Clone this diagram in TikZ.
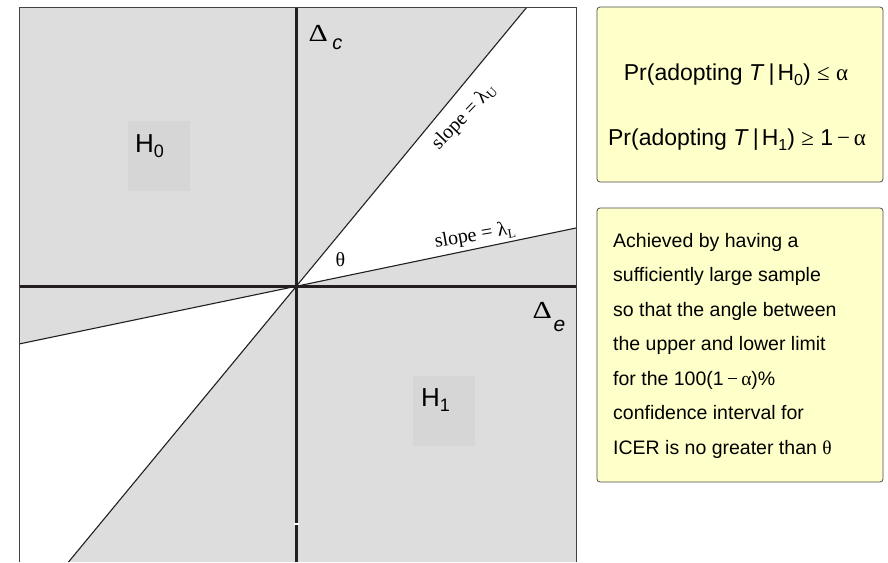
\documentclass[tikz,border=0pt]{standalone}
\usepackage{fontspec}
\setmainfont{Liberation Sans}
\newfontfamily\symf{Liberation Serif}
\newcommand{\lowr}[3]{\raisebox{-#1}{\fontsize{#2}{#2}\selectfont #3}}
\newcommand{\wideDelta}{\scalebox{1.25}[1.02]{Δ}}
\definecolor{gfill}{RGB}{221,221,221}
\definecolor{hfill}{RGB}{214,214,214}
\definecolor{ink}{RGB}{35,31,32}
\definecolor{ybox}{RGB}{255,255,202}
\tikzset{
  axisline/.style={draw=ink, line width=3pt},
  ciline/.style={draw=ink, line width=1.1pt},
  frameline/.style={draw=ink!85, line width=1pt},
  hbox/.style={fill=hfill, draw=none, minimum width=62pt, minimum height=70pt, inner sep=0pt},
  hlabel/.style={anchor=base west, inner sep=0pt, font=\fontsize{26}{30}\selectfont},
  dlabel/.style={anchor=base west, inner sep=0pt, font=\symf\fontsize{24}{28}\selectfont},
  slopelabel/.style={inner sep=0pt, font=\symf\fontsize{20}{22}\selectfont},
  notebox/.style={fill=ybox, draw=ink!80, line width=0.8pt, rounded corners=3pt},
  boxtext/.style={anchor=base west, inner sep=0pt, font=\fontsize{19.5}{24}\selectfont},
  prtext/.style={anchor=base, inner sep=0pt, font=\fontsize{23}{26}\selectfont}
}
\begin{document}
\begin{tikzpicture}[x=1pt,y=-1pt]
\useasboundingbox (0,0) rectangle (888,562);
% frame and key points
\coordinate (TL) at (19,7);
\coordinate (TR) at (576,7);
\coordinate (BL) at (19,562);
\coordinate (BR) at (576,562);
\coordinate (O) at (296,286);
\coordinate (U1) at (527,7);
\coordinate (U2) at (68.5,562);
\coordinate (L1) at (576,228);
\coordinate (L2) at (19,344);
\coordinate (AxL) at (19,286);
\coordinate (AxR) at (576,286);
\coordinate (AxT) at (296,7);
\coordinate (AxB) at (296,562);
% regions
\fill[gfill] (TL) rectangle (BR);
\fill[white] (O) -- (U1) -- (TR) -- (L1) -- cycle;
\fill[white] (O) -- (L2) -- (BL) -- (U2) -- cycle;
% hypothesis boxes
\node[hbox] (h0box) at (159,156) {};
\node[hbox] (h1box) at (444,411) {};
\node[hlabel] (h0) at (135,152) {H\lowr{5pt}{18}{0}};
\node[hlabel] (h1) at (421,406) {H\lowr{5pt}{18}{1}};
% limit lines
\begin{scope}
\clip (TL) rectangle (BR);
\draw[ciline] (U2) -- (U1);
\draw[ciline] (L2) -- (L1);
\end{scope}
% axes
\draw[axisline] (AxL) -- (AxR);
\draw[axisline] (AxT) -- (AxB);
\coordinate (gapL) at (293.5,524);
\coordinate (gapR) at (298.5,524);
\draw[white, line width=1.2pt] (gapL) -- (gapR);
% frame
\draw[frameline] (BL) -- (TL) -- (TR) -- (BR);
% axis labels
\node[dlabel] (dc) at (308.5,41) {\wideDelta\hspace{4.5pt}{\normalfont\itshape\fontsize{20}{20}\selectfont\raisebox{-9pt}{c}}};
\node[dlabel] (de) at (532.5,318) {\wideDelta\hspace{1.5pt}{\normalfont\itshape\fontsize{21}{21}\selectfont\raisebox{-13pt}{e}}};
% slope labels
\node[slopelabel, rotate=46] (su) at (464,117) {slope = λ\lowr{3pt}{13}{U}};
\node[slopelabel, rotate=10] (sl) at (475,236) {slope = λ\lowr{3pt}{13}{L}};
\node[inner sep=0pt, font=\symf\fontsize{20}{20}\selectfont] (theta) at (340.5,260) {θ};
% note boxes
\draw[notebox] (597,7) rectangle (883,182);
\node[prtext] (pr0) at (736,80) {Pr(adopting \textit{T}\hspace{4pt}|\hspace{3pt}H\lowr{5pt}{16}{0}) {\symf ≤} {\symf α}};
\node[prtext] (pr1) at (737,145) {Pr(adopting \textit{T}\hspace{4pt}|\hspace{3pt}H\lowr{5pt}{16}{1}) {\symf ≥} 1\,{\symf −}\,{\symf α}};
\draw[notebox] (597,208) rectangle (883,482);
\node[boxtext] (t1) at (613,247) {Achieved by having a};
\node[boxtext] (t2) at (613,281.5) {sufficiently large sample};
\node[boxtext] (t3) at (613,316) {so that the angle between};
\node[boxtext] (t4) at (613,350.5) {the upper and lower limit};
\node[boxtext] (t5) at (613,385) {for the 100(1\,{\symf −}\,{\symf α})\%};
\node[boxtext] (t6) at (613,419.5) {confidence interval for};
\node[boxtext] (t7) at (613,454) {ICER is no greater than {\symf θ}};
\end{tikzpicture}
\end{document}
